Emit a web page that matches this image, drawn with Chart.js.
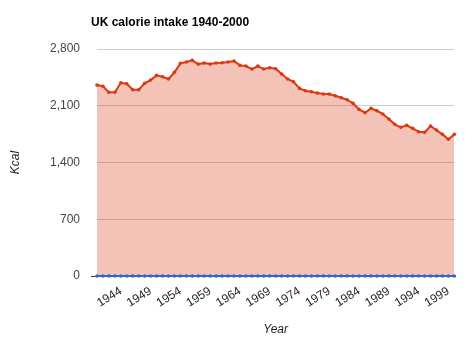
<!DOCTYPE html>
<html>
<head>
<meta charset="utf-8">
<script src="https://cdn.jsdelivr.net/npm/chart.js@4/dist/chart.umd.min.js"></script>
<style>
  html, body { margin: 0; padding: 0; background: #fff; }
  #wrap { position: relative; width: 470px; height: 343px; }
</style>
</head>
<body>
<div id="wrap"><canvas id="calorieChart" width="470" height="343"></canvas></div>
<script>
// UK calorie intake, 1940-2000
const years = [
  1940, 1941, 1942, 1943, 1944, 1945, 1946, 1947, 1948, 1949,
  1950, 1951, 1952, 1953, 1954, 1955, 1956, 1957, 1958, 1959,
  1960, 1961, 1962, 1963, 1964, 1965, 1966, 1967, 1968, 1969,
  1970, 1971, 1972, 1973, 1974, 1975, 1976, 1977, 1978, 1979,
  1980, 1981, 1982, 1983, 1984, 1985, 1986, 1987, 1988, 1989,
  1990, 1991, 1992, 1993, 1994, 1995, 1996, 1997, 1998, 1999,
  2000,
];

const kcal = [
  2355, 2340, 2265, 2265, 2384, 2372, 2298, 2298, 2376, 2417,
  2475, 2458, 2430, 2512, 2623, 2639, 2660, 2614, 2627, 2614,
  2627, 2631, 2639, 2651, 2598, 2590, 2553, 2590, 2553, 2569,
  2557, 2491, 2430, 2396, 2314, 2285, 2273, 2256, 2244, 2244,
  2223, 2199, 2174, 2129, 2055, 2014, 2068, 2038, 1998, 1936,
  1871, 1834, 1858, 1821, 1780, 1772, 1850, 1800, 1747, 1686,
  1747,
];

// second column of the sheet is empty, plotted as zeros
const empty = [
  0, 0, 0, 0, 0, 0, 0, 0, 0, 0,
  0, 0, 0, 0, 0, 0, 0, 0, 0, 0,
  0, 0, 0, 0, 0, 0, 0, 0, 0, 0,
  0, 0, 0, 0, 0, 0, 0, 0, 0, 0,
  0, 0, 0, 0, 0, 0, 0, 0, 0, 0,
  0, 0, 0, 0, 0, 0, 0, 0, 0, 0,
  0,
];

const yTicks = [0, 700, 1400, 2100, 2800];
const firstLabelYear = 1944;
const labelEvery = 5;

const FONT = '"Liberation Sans", Arial, sans-serif';

// chart title sits left-aligned over the plot area
const titlePlugin = {
  id: 'leftTitle',
  afterDraw(chart) {
    const { ctx, chartArea } = chart;
    ctx.save();
    ctx.font = 'bold 12px ' + FONT;
    ctx.fillStyle = '#000';
    ctx.textAlign = 'left';
    ctx.textBaseline = 'middle';
    ctx.fillText('UK calorie intake 1940-2000', chartArea.left - 6, 23);
    ctx.restore();
  },
};

const ctx = document.getElementById('calorieChart').getContext('2d');
new Chart(ctx, {
  type: 'line',
  data: {
    labels: years,
    datasets: [
      {
        label: 'Kcal',
        data: empty,
        borderColor: '#3366cc',
        backgroundColor: '#3366cc',
        borderWidth: 2,
        pointRadius: 1.8,
        pointBorderWidth: 0,
        fill: false,
        clip: false,
        order: 0,
      },
      {
        label: 'Calories',
        data: kcal,
        borderColor: '#dc3912',
        backgroundColor: 'rgba(220, 57, 18, 0.3)',
        pointBackgroundColor: '#dc3912',
        borderWidth: 2,
        pointRadius: 1.8,
        pointBorderWidth: 0,
        fill: 'origin',
        tension: 0,
        order: 1,
      },
    ],
  },
  options: {
    responsive: false,
    animation: false,
    layout: {
      autoPadding: false,
      padding: { left: 0, right: 8, top: 49, bottom: 0 },
    },
    plugins: {
      legend: { display: false },
      tooltip: { enabled: false },
      title: { display: false },
    },
    scales: {
      x: {
        offset: false,
        grid: { display: false, drawTicks: false },
        border: { display: false },
        ticks: {
          autoSkip: false,
          minRotation: 32,
          maxRotation: 32,
          padding: 8,
          color: '#222',
          font: { family: FONT, size: 12 },
          callback(value) {
            const y = years[value];
            return (y - firstLabelYear) % labelEvery === 0 ? String(y) : '';
          },
        },
        title: {
          display: true,
          text: 'Year',
          color: '#222',
          font: { family: FONT, size: 12, style: 'italic' },
          padding: { top: 0, bottom: 6 },
        },
        afterFit(scale) {
          scale.height = 67;
        },
      },
      y: {
        min: 0,
        max: 2800,
        afterBuildTicks(scale) {
          scale.ticks = yTicks.map((v) => ({ value: v }));
        },
        grid: {
          color: (c) => (c.tick && c.tick.value === 0 ? '#333' : '#cccccc'),
          tickColor: (c) => (c.tick && c.tick.value === 0 ? '#333' : 'rgba(0,0,0,0)'),
          tickLength: 6,
          lineWidth: 1,
        },
        border: { display: false },
        ticks: {
          padding: 11,
          color: '#444',
          font: { family: FONT, size: 12 },
          callback: (v) => v.toLocaleString('en-US'),
        },
        title: {
          display: true,
          text: 'Kcal',
          color: '#222',
          font: { family: FONT, size: 12, style: 'italic' },
          padding: { top: 8, bottom: 0 },
        },
        afterFit(scale) {
          scale.width = 97;
        },
      },
    },
  },
  plugins: [titlePlugin],
});
</script>
</body>
</html>
